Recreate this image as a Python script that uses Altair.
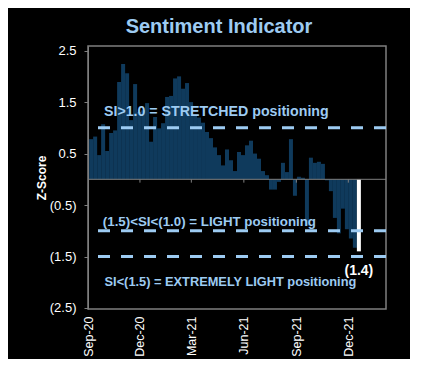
import altair as alt
import pandas as pd

# ---- data ----
week_start = pd.date_range("2020-09-03", periods=68, freq="7D")
zscore = [0.78, 0.83, 0.47, 1.07, 0.55, 0.90, 0.95, 1.89, 2.24, 2.06,
          1.15, 1.85, 1.31, 1.34, 1.48, 0.73, 1.21, 0.99, 1.09, 1.60,
          1.62, 1.96, 2.00, 1.76, 1.87, 1.50, 1.25, 1.20, 1.10, 0.92,
          0.80, 0.62, 0.47, 0.27, 0.58, 0.37, 0.16, 0.53, 0.47, 0.66,
          0.75, 0.50, 0.40, 0.16, 0.08, -0.20, -0.20, -0.05, 0.32, 0.14,
          0.78, -0.32, 0.05, 0.03, -0.90, 0.42, 0.32, 0.34, 0.30, -0.02,
          -0.23, -0.75, -1.05, -0.57, -0.97, -1.15, -1.33, -1.40]

thresholds = [1.0, -1.0, -1.5]
ann_text = ["SI>1.0 = STRETCHED positioning",
            "(1.5)<SI<(1.0) = LIGHT positioning",
            "SI<(1.5) = EXTREMELY LIGHT positioning"]
ann_date = ["2020-09-29", "2020-09-27", "2020-09-30"]
ann_y = [1.23, -0.90, -2.08]
last_label = "(1.4)"
last_label_y = -1.85
quarter_ticks = ["2020-12-01", "2021-03-01", "2021-06-01", "2021-09-01", "2021-12-01"]
y_ticks = [-2.5, -1.5, -0.5, 0.5, 1.5, 2.5]

NAVY = "#0f3a5c"
LIGHT = "#9dcbf2"
GREY = "#7f7f7f"
FONT = "Liberation Sans"

df = pd.DataFrame({"start": week_start, "z": zscore})
df["end"] = df["start"] + pd.Timedelta(days=7)
df["mid"] = df["start"] + pd.Timedelta(days=3, hours=12)
df["kind"] = ["hist"] * (len(df) - 1) + ["latest"]

x_scale = alt.Scale(domain=[alt.DateTime(year=2020, month=9, date=1),
                            alt.DateTime(year=2022, month=2, date=5)])
y_scale = alt.Scale(domain=[-2.52, 2.59], nice=False, zero=False)

x_axis = alt.Axis(values=[alt.DateTime(year=2020, month=9, date=1),
                          alt.DateTime(year=2020, month=12, date=1),
                          alt.DateTime(year=2021, month=3, date=1),
                          alt.DateTime(year=2021, month=6, date=1),
                          alt.DateTime(year=2021, month=9, date=1),
                          alt.DateTime(year=2021, month=12, date=1)],
                  format="%b-%y", labelAngle=-90, grid=False, ticks=False,
                  domain=False, labelColor="white", labelFontSize=12.5,
                  labelFont=FONT, labelPadding=7, title=None)
y_axis = alt.Axis(values=y_ticks,
                  labelExpr="datum.value < 0 ? '(' + format(-datum.value, '.1f') + ')' : format(datum.value, '.1f') + '\u00a0'",
                  grid=False, domainColor=GREY, tickColor=GREY, tickSize=4,
                  labelColor="white", labelFontSize=13, labelFont=FONT,
                  labelPadding=8, title="Z-Score", titleColor="white",
                  titleFont=FONT, titleFontSize=12, titleFontWeight="bold",
                  titlePadding=1)

bars = alt.Chart(df).mark_bar(stroke=None).encode(
    x=alt.X("start:T", scale=x_scale, axis=x_axis),
    x2="end:T",
    y=alt.Y("z:Q", scale=y_scale, axis=y_axis),
    y2=alt.datum(0),
    color=alt.Color("kind:N", scale=alt.Scale(domain=["hist", "latest"],
                                              range=[NAVY, "white"]), legend=None),
)

zero = alt.Chart(pd.DataFrame({"y": [0.0]})).mark_rule(color=GREY, strokeWidth=1).encode(
    y=alt.Y("y:Q", scale=y_scale))

tick_df = pd.DataFrame({"d": quarter_ticks, "y0": [0.0] * 5, "y1": [-0.065] * 5})
qticks = alt.Chart(tick_df).mark_rule(color=GREY, strokeWidth=1).encode(
    x=alt.X("d:T", scale=x_scale), y=alt.Y("y0:Q", scale=y_scale), y2="y1:Q")

dashed = alt.Chart(pd.DataFrame({"t": thresholds})).mark_rule(
    color=LIGHT, strokeWidth=3, strokeDash=[12, 11]).encode(
    y=alt.Y("t:Q", scale=y_scale))

ann_df = pd.DataFrame({"d": ann_date, "y": ann_y, "txt": ann_text})
ann_sizes = [14.2, 13.3, 12.8]
ann_layers = []
for i, fs in enumerate(ann_sizes):
    ann_layers.append(
        alt.Chart(ann_df.iloc[[i]]).mark_text(
            align="left", baseline="alphabetic", color=LIGHT, font=FONT,
            fontSize=fs, fontWeight="bold").encode(
            x=alt.X("d:T", scale=x_scale), y=alt.Y("y:Q", scale=y_scale), text="txt:N"))

last_df = df.iloc[[-1]].copy()
last_df["lbl"] = last_label
last_df["ly"] = last_label_y
lastlbl = alt.Chart(last_df).mark_text(
    align="center", baseline="alphabetic", color="white", font=FONT,
    fontSize=14, fontWeight="bold").encode(
    x=alt.X("mid:T", scale=x_scale), y=alt.Y("ly:Q", scale=y_scale), text="lbl:N")

chart = alt.layer(bars, zero, qticks, dashed, *ann_layers, lastlbl).properties(
    width=298, height=263,
    title=alt.TitleParams("Sentiment Indicator", color=LIGHT, fontSize=20,
                          font=FONT, fontWeight="bold",
                          anchor="middle", dx=-18, offset=8),
    autosize=alt.AutoSizeParams(type="none"),
    padding={"left": 80, "top": 38, "right": 24, "bottom": 50},
    background="black",
).configure_view(stroke=GREY, strokeWidth=1.5)

chart.save("out.html", embed_options={"renderer": "svg", "actions": False})
